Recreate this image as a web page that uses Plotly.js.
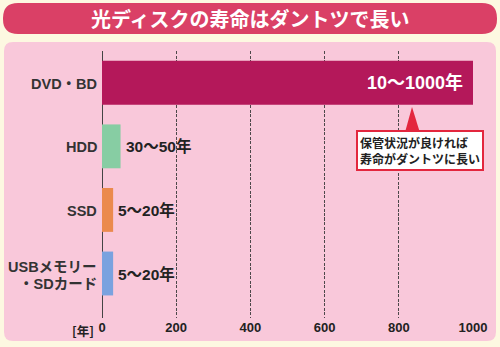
<!DOCTYPE html>
<html><head><meta charset="utf-8">
<script src="https://cdn.plot.ly/plotly-3.0.1.min.js"></script>
<style>html,body{margin:0;padding:0;background:#fdf8e1;}#chart{width:500px;height:347px;}</style>
</head><body><div id="chart"></div>
<script>
const title = '光ディスクの寿命はダントツで長い';
const categories = ['DVD・BD', 'HDD', 'SSD', 'USBメモリー<br>・SDカード'];
const values = [1000, 50, 30, 30];
const valueLabels = ['10〜1000年', '30〜50年', '5〜20年', '5〜20年'];
const barColors = ['#b4185a', '#87cda3', '#eb8a4d', '#7aa2df'];
const xTicks = [0, 200, 400, 600, 800, 1000];
const unitLabel = '[年]';
const callout = '保管状況が良ければ<br>寿命がダントツに長い';

const FONT = '"Noto Sans CJK JP", "Noto Sans", sans-serif';
const LFONT = '"Liberation Sans", "Noto Sans CJK JP", sans-serif';
const L = 102, R = 473, T = 51, B = 318;
const X = px => (px - L) / (R - L);
const Y = py => (B - py) / (B - T);
function rr(x0, y0, x1, y1, r) {
  const p = (x, y) => X(x) + ',' + Y(y);
  return 'M' + p(x0 + r, y0) + ' L' + p(x1 - r, y0) + ' Q' + p(x1, y0) + ' ' + p(x1, y0 + r) +
    ' L' + p(x1, y1 - r) + ' Q' + p(x1, y1) + ' ' + p(x1 - r, y1) +
    ' L' + p(x0 + r, y1) + ' Q' + p(x0, y1) + ' ' + p(x0, y1 - r) +
    ' L' + p(x0, y0 + r) + ' Q' + p(x0, y0) + ' ' + p(x0 + r, y0) + ' Z';
}

const trace = {
  type: 'bar', orientation: 'h',
  x: values, y: categories,
  marker: {color: barColors, line: {width: 0}},
  width: 0.69, hoverinfo: 'skip'
};

const annotations = [
  {xref: 'paper', yref: 'paper', x: X(250), y: Y(18.5), text: '<b>' + title + '</b>', showarrow: false,
   xanchor: 'center', yanchor: 'middle', font: {family: FONT, size: 20, color: '#ffffff'}},
  {xref: 'paper', yref: 'paper', x: X(96), y: Y(330), text: '<b>' + unitLabel + '</b>', showarrow: false,
   xanchor: 'right', yanchor: 'middle', font: {family: FONT, size: 12.5, color: '#222'}},
  {xref: 'paper', yref: 'paper', x: X(420), y: Y(150.5), text: '<b>' + callout + '</b>', showarrow: false,
   xanchor: 'center', yanchor: 'middle', align: 'left', bgcolor: '#ffffff', bordercolor: '#e3263e',
   borderwidth: 2, borderpad: 2, font: {family: FONT, size: 12, color: '#222'}}
];
// category labels (one annotation per line so the line spacing can match the reference)
const lineGap = 17;
categories.forEach((c, i) => {
  const lines = c.split('<br>');
  const n = lines.length;
  lines.forEach((ln, j) => {
    annotations.push({
      xref: 'paper', yref: 'y', x: X(99), y: c, text: '<b>' + ln + '</b>', showarrow: false,
      xanchor: 'right', yanchor: 'middle',
      yshift: ((n - 1) / 2 - j) * lineGap + (n > 1 ? -2 : -1),
      font: {family: LFONT, size: 14.5, color: '#333'}
    });
  });
});
values.forEach((v, i) => {
  const inside = i === 0;
  annotations.push({
    x: v, y: categories[i], xref: 'x', yref: 'y', text: '<b>' + valueLabels[i] + '</b>', showarrow: false,
    xanchor: inside ? 'right' : 'left', xshift: inside ? -8 : 3, yanchor: 'middle',
    font: {family: LFONT, size: inside ? 18 : 15.5, color: inside ? '#ffffff' : '#222'}
  });
});

const shapes = [
  {type: 'path', xref: 'paper', yref: 'paper', path: rr(3, 3, 497, 34, 15), fillcolor: '#da4066', line: {width: 0}, layer: 'below'},
  {type: 'path', xref: 'paper', yref: 'paper', path: rr(4, 42, 496, 341, 9), fillcolor: '#f9c8da', line: {width: 0}, layer: 'below'},
  {type: 'path', xref: 'paper', yref: 'paper',
   path: 'M' + X(412) + ',' + Y(107) + ' L' + X(421) + ',' + Y(136) + ' L' + X(404) + ',' + Y(136) + ' Z',
   fillcolor: '#e3263e', line: {width: 0}, layer: 'above'}
];

const layout = {
  width: 500, height: 347,
  margin: {l: L, r: 500 - R, t: T, b: 347 - B},
  paper_bgcolor: '#fdf8e1', plot_bgcolor: 'rgba(0,0,0,0)',
  showlegend: false,
  xaxis: {range: [0, 1000], tickvals: xTicks, ticktext: xTicks.map(String),
    showgrid: true, gridcolor: '#3a3a3a', gridwidth: 0.9, griddash: '3px,1.5px',
    zeroline: true, zerolinecolor: '#444', zerolinewidth: 1,
    ticks: '', showline: false, fixedrange: true,
    tickfont: {family: LFONT, size: 13, color: '#222', weight: 'bold'}},
  yaxis: {type: 'category', range: [3.7, -0.5], autorange: false, showgrid: false, zeroline: false,
    ticks: '', showline: false, showticklabels: false},
  annotations: annotations,
  shapes: shapes
};

Plotly.newPlot('chart', [trace], layout, {displayModeBar: false, staticPlot: true});
</script></body></html>
